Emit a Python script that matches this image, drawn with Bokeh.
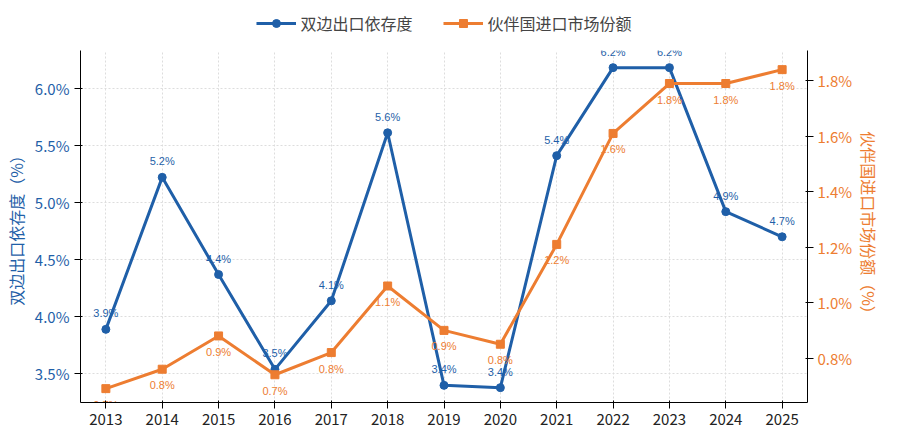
from bokeh.plotting import figure
from bokeh.layouts import column
from bokeh.models import LinearAxis, Range1d, Legend, LegendItem, ColumnDataSource, CustomJSTickFormatter
from bokeh.embed import file_html
from bokeh.resources import INLINE

years = [2013,2014,2015,2016,2017,2018,2019,2020,2021,2022,2023,2024,2025]
dep = [3.89,5.22,4.37,3.54,4.14,5.61,3.40,3.38,5.41,6.18,6.18,4.92,4.70]
share = [0.69,0.76,0.88,0.74,0.82,1.06,0.90,0.85,1.21,1.61,1.79,1.79,1.84]

BLUE = "#1f5fa8"
ORANGE = "#ed7d31"
FONT = "Noto Sans CJK SC"

p = figure(width=884, height=382, output_backend="svg", toolbar_location=None,
           x_range=Range1d(2012.55, 2025.45), y_range=Range1d(3.25, 6.33),
           min_border_left=10, min_border_right=4, min_border_top=5, min_border_bottom=2)
p.extra_y_ranges = {"r": Range1d(0.64, 1.909)}
p.outline_line_color = None
p.xgrid.grid_line_dash = "2 2"; p.ygrid.grid_line_dash = "2 2"
p.xgrid.grid_line_color = "#dddddd"; p.ygrid.grid_line_color = "#dddddd"
p.xaxis.ticker = years
p.yaxis.ticker = [3.5,4.0,4.5,5.0,5.5,6.0]
p.yaxis.formatter = CustomJSTickFormatter(code="return tick.toFixed(1)+'%'")
p.yaxis.axis_label = "双边出口依存度（%）"
for ax in (p.xaxis[0], p.yaxis[0]):
    ax.major_label_text_font = FONT
    ax.major_label_text_font_size = "15px"
    ax.axis_label_text_font = FONT
    ax.axis_label_text_font_size = "16px"
    ax.axis_label_text_font_style = "normal"
    ax.minor_tick_line_color = None
    ax.axis_label_standoff = 4
p.yaxis.major_label_text_color = BLUE
p.yaxis.axis_label_text_color = BLUE
p.xaxis.major_label_text_color = "#222222"

ra = LinearAxis(y_range_name="r", ticker=[0.8,1.0,1.2,1.4,1.6,1.8],
                formatter=CustomJSTickFormatter(code="return tick.toFixed(1)+'%'"),
                axis_label="伙伴国进口市场份额（%）")
ra.major_label_text_font = FONT; ra.major_label_text_font_size = "15px"
ra.axis_label_text_font = FONT; ra.axis_label_text_font_size = "16px"
ra.axis_label_text_font_style = "normal"
ra.major_label_text_color = ORANGE; ra.axis_label_text_color = ORANGE
ra.minor_tick_line_color = None
ra.axis_label_standoff = 2
ra.major_label_standoff = 4
p.add_layout(ra, "right")

s1 = ColumnDataSource(dict(x=years, y=dep, t=[f"{v:.1f}%" for v in dep]))
s2 = ColumnDataSource(dict(x=years, y=share, t=[f"{v:.1f}%" for v in share]))
p.line("x", "y", source=s1, color=BLUE, line_width=3)
p.scatter("x", "y", source=s1, color=BLUE, size=8)
p.line("x", "y", source=s2, color=ORANGE, line_width=3, y_range_name="r")
p.scatter("x", "y", source=s2, color=ORANGE, size=8, marker="square", y_range_name="r")
p.text("x", "y", text="t", source=s1, text_color=BLUE, text_font_size="11px",
       text_align="center", text_baseline="bottom", y_offset=-10)
p.text("x", "y", text="t", source=s2, text_color=ORANGE, text_font_size="11px",
       text_align="center", text_baseline="top", y_offset=10, y_range_name="r")

# legend strip
lg = figure(width=884, height=45, output_backend="svg", toolbar_location=None,
            x_range=Range1d(0, 1), y_range=Range1d(0, 1), min_border=0)
lg.axis.visible = False; lg.grid.visible = False; lg.outline_line_color = None
l1 = lg.line([5, 6], [5, 6], color=BLUE, line_width=3)
c1 = lg.scatter([5], [5], color=BLUE, size=8)
l2 = lg.line([5, 6], [5, 6], color=ORANGE, line_width=3)
c2 = lg.scatter([5], [5], color=ORANGE, size=8, marker="square")
leg = Legend(items=[LegendItem(label="双边出口依存度", renderers=[l1, c1]),
                    LegendItem(label="伙伴国进口市场份额", renderers=[l2, c2])],
             orientation="horizontal", location="center", border_line_color=None,
             background_fill_alpha=0,
             label_text_font=FONT, label_text_font_size="16px", glyph_width=40, spacing=30)
lg.add_layout(leg, "center")

open("out.html", "w").write(file_html(column(lg, p, spacing=0), INLINE))
